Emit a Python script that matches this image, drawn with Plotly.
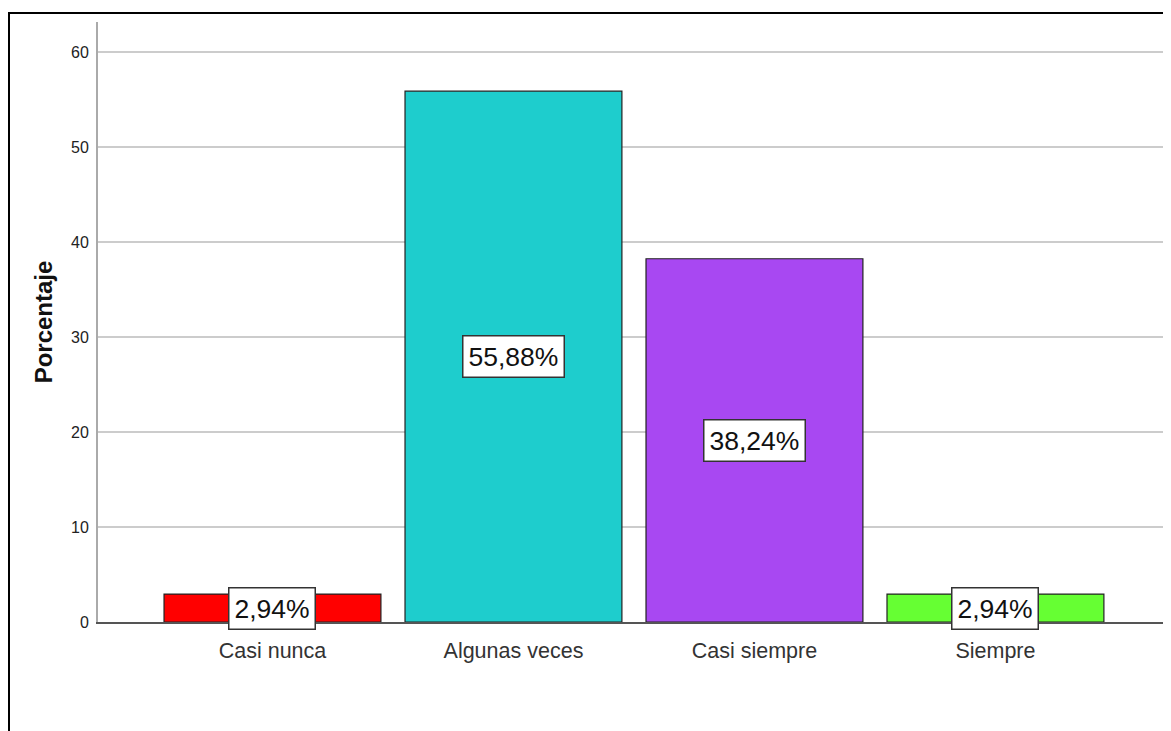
import plotly.graph_objects as go

categories = ["Casi nunca", "Algunas veces", "Casi siempre", "Siempre"]
values = [2.94, 55.88, 38.24, 2.94]
labels = ["2,94%", "55,88%", "38,24%", "2,94%"]
colors = ["#FF0000", "#1ECDCD", "#A848F2", "#66FF33"]
yticks = [0, 10, 20, 30, 40, 50, 60]

FONT = "Liberation Sans, Arial, sans-serif"

# page body has an 8px default margin; figure is sized to compensate
OFF = 8
W, H = 1163, 723
L, R, T, B = 98 - OFF, 3, 22 - OFF, 723 - (622 - OFF)
pw, ph = W - L - R, H - T - B

xpos = list(range(len(categories)))

fig = go.Figure()
fig.add_trace(go.Bar(
    x=xpos, y=values, width=0.9,
    marker=dict(color=colors, line=dict(color="#222222", width=1.2)),
    hoverinfo="skip", showlegend=False,
))

for xi, v, lab in zip(xpos, values, labels):
    fig.add_annotation(
        x=xi, y=v / 2, text=lab, showarrow=False,
        font=dict(family=FONT, size=26.5, color="#111111"),
        bgcolor="white", bordercolor="#333333", borderwidth=1.5, borderpad=5,
    )

def px2paperx(px):
    return (px - OFF - L) / pw

def px2papery(py):
    return 1 - (py - OFF - T) / ph

# outer frame
fig.add_shape(type="rect", xref="paper", yref="paper",
              x0=px2paperx(9), x1=px2paperx(1200), y0=px2papery(800), y1=px2papery(13),
              line=dict(color="black", width=2), fillcolor="rgba(0,0,0,0)", layer="above")

fig.update_layout(
    width=W, height=H,
    margin=dict(l=L, r=R, t=T, b=B),
    paper_bgcolor="white", plot_bgcolor="white",
    font=dict(family=FONT, color="#222222"),
    xaxis=dict(
        range=[-0.724, 3.716], tickvals=xpos, ticktext=categories,
        tickfont=dict(family=FONT, size=21.5, color="#333333"),
        showgrid=False, zeroline=False,
        showline=True, linecolor="#555555", linewidth=1.5,
        ticks="", fixedrange=True, ticklabelstandoff=8,
    ),
    yaxis=dict(
        range=[0, 63.16], tickvals=yticks,
        tickfont=dict(family=FONT, size=16, color="#222222"),
        showgrid=True, gridcolor="#CCCCCC", gridwidth=2,
        zeroline=False,
        showline=True, linecolor="#AAAAAA", linewidth=2,
        ticks="", ticklabelstandoff=4,
        title=dict(text="<b>Porcentaje</b>",
                   font=dict(family=FONT, size=24, color="#111111"),
                   standoff=12),
    ),
)

fig.write_html("out.html")
